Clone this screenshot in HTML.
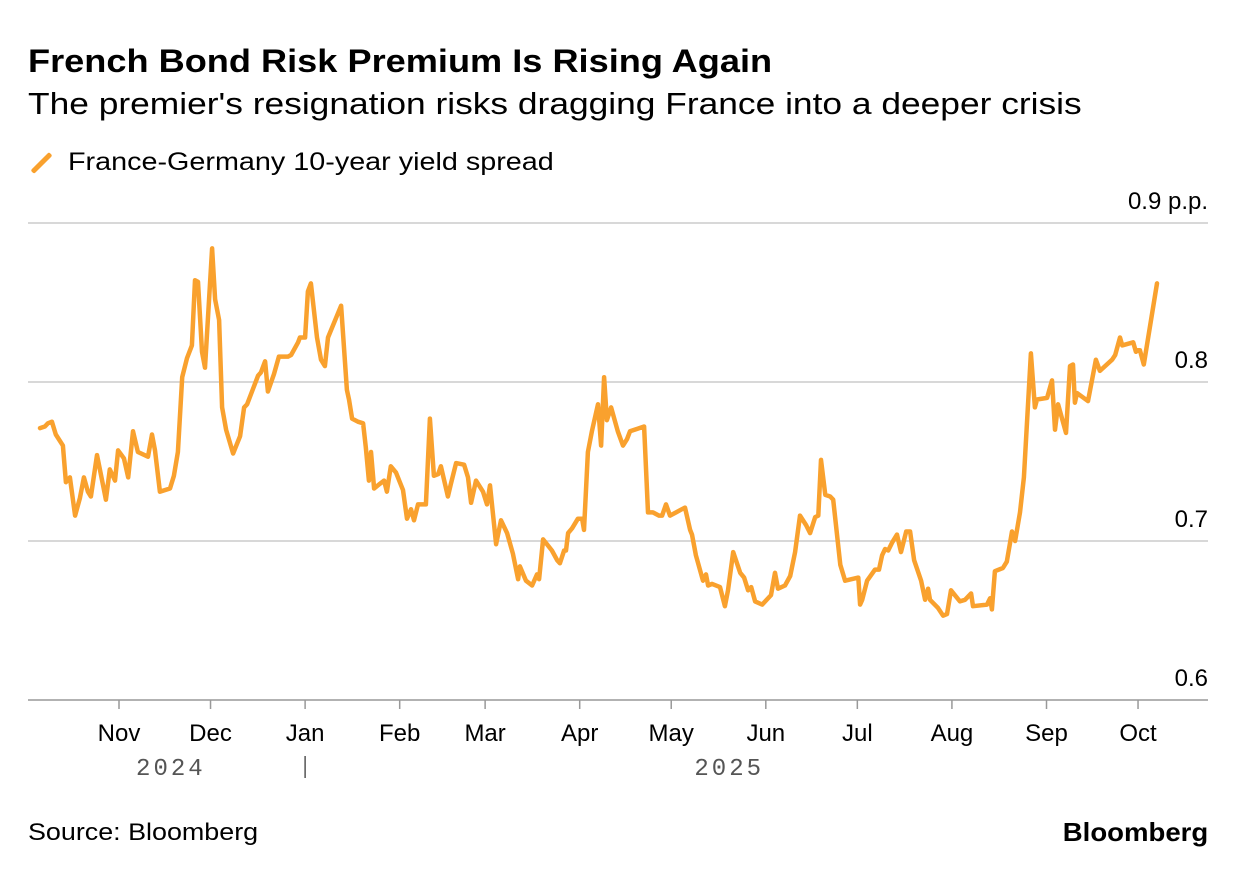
<!DOCTYPE html>
<html><head><meta charset="utf-8">
<style>
body{margin:0;background:#fff;font-family:"Liberation Sans",sans-serif;color:#000}
#wrap{position:relative;width:1237px;height:876px;overflow:hidden}
.t{position:absolute;white-space:nowrap;transform-origin:left center}
</style></head><body>
<div id="wrap">
<div class="t" style="left:28px;top:43px;font-size:32px;font-weight:bold;transform:scaleX(1.13)">French Bond Risk Premium Is Rising Again</div>
<div class="t" style="left:28px;top:86px;font-size:31px;transform:scaleX(1.14)">The premier's resignation risks dragging France into a deeper crisis</div>
<span style="position:absolute;left:39px;top:150px;width:5px;height:26px;background:#f9a12e;transform:rotate(45deg);border-radius:2px"></span>
<div class="t" style="left:68px;top:148px;font-size:25px;transform:scaleX(1.15)">France-Germany 10-year yield spread</div>
<svg id="chart" width="1237" height="876" style="position:absolute;left:0;top:0"></svg>
<div class="t" style="left:28px;top:819px;font-size:24px;transform:scaleX(1.12)">Source: Bloomberg</div>
<div class="t" style="right:29px;top:817px;font-size:26px;font-weight:bold;transform-origin:right center;transform:scaleX(1.06)">Bloomberg</div>
</div>
<script>
const days=[5.1,6.7,7.7,9.0,10.3,12.6,13.6,14.9,16.6,18.2,19.5,20.8,21.8,23.8,25.8,26.7,28.0,29.7,30.7,32.6,34.0,35.6,37.2,40.5,41.8,42.8,44.4,47.7,49.0,50.3,51.7,53.3,54.9,55.9,56.9,58.2,59.2,61.5,62.5,63.8,64.8,66.1,68.4,70.7,72.0,73.0,74.6,76.6,77.5,78.9,79.8,81.8,83.4,86.4,87.4,89.7,90.3,92.0,92.9,93.9,95.9,97.2,98.5,99.5,103.8,105.7,106.4,107.4,109.3,111.0,111.9,112.9,113.6,114.6,116.5,117.9,118.8,120.1,121.8,124.1,125.4,126.7,127.7,129.0,131.6,132.9,134.2,135.6,136.5,138.8,139.8,141.5,144.1,145.4,146.4,148.0,150.3,151.6,152.6,154.6,156.2,158.2,160.1,161.8,162.4,164.4,166.4,168.0,168.7,170.0,172.9,174.6,175.5,176.9,177.5,178.2,179.5,181.4,182.8,183.4,184.7,186.0,188.0,189.0,190.0,190.9,192.3,194.5,196.2,197.5,198.5,203.1,204.4,206.0,208.0,209.0,210.3,211.6,213.6,215.5,216.5,218.2,218.8,220.1,222.4,223.4,224.1,225.4,228.0,229.6,230.6,232.3,234.6,235.9,237.2,238.2,239.5,241.8,244.7,246.0,247.0,249.3,251.0,252.6,254.2,256.2,257.5,259.2,260.2,261.1,262.5,264.1,265.1,267.4,269.0,273.3,273.9,274.6,276.2,278.8,280.1,281.1,282.1,283.1,284.4,286.0,287.3,289.0,290.3,291.6,293.9,295.2,296.2,296.8,299.4,301.1,302.4,303.7,306.6,308.3,310.3,310.9,315.5,316.5,317.1,318.1,320.7,322.0,323.7,324.7,326.3,327.6,329.9,331.2,331.9,335.2,336.8,337.8,338.8,341.4,342.7,343.7,344.3,345.0,348.6,351.2,352.5,356.5,357.5,359.1,359.8,363.4,364.3,365.0,365.6,366.9,371.2];
const spread=[.771,.772,.774,.775,.767,.760,.737,.740,.716,.727,.740,.731,.728,.754,.735,.726,.745,.738,.757,.752,.740,.769,.756,.753,.767,.757,.731,.733,.741,.756,.803,.815,.823,.864,.863,.819,.809,.884,.852,.839,.784,.770,.755,.766,.784,.786,.794,.804,.806,.813,.794,.805,.816,.816,.817,.825,.828,.828,.857,.862,.828,.814,.810,.828,.848,.795,.789,.777,.775,.774,.759,.738,.756,.733,.736,.738,.731,.747,.743,.732,.714,.720,.713,.723,.723,.777,.741,.742,.747,.728,.736,.749,.748,.740,.724,.738,.731,.723,.735,.698,.713,.705,.692,.676,.684,.675,.672,.679,.676,.701,.694,.688,.686,.694,.694,.705,.708,.714,.714,.707,.756,.769,.786,.760,.803,.776,.784,.769,.760,.764,.769,.772,.718,.718,.716,.716,.723,.716,.718,.720,.721,.707,.704,.691,.675,.679,.672,.673,.671,.659,.669,.693,.680,.677,.669,.671,.662,.660,.666,.680,.670,.672,.678,.693,.716,.710,.705,.715,.716,.751,.729,.728,.726,.685,.675,.677,.660,.663,.675,.682,.682,.691,.695,.694,.699,.704,.693,.706,.706,.688,.675,.663,.670,.663,.658,.653,.654,.669,.662,.663,.667,.659,.660,.664,.657,.681,.683,.687,.706,.700,.718,.740,.818,.784,.789,.790,.801,.770,.786,.768,.810,.811,.787,.793,.788,.814,.807,.814,.817,.828,.823,.825,.819,.820,.820,.811,.862];
const yTicks=[0.6,0.7,0.8,0.9];
const yTickLabels=["0.6","0.7","0.8","0.9 p.p."];
const monthDays=[31,61,92,123,151,182,212,243,273,304,335,365];
const monthLabels=["Nov","Dec","Jan","Feb","Mar","Apr","May","Jun","Jul","Aug","Sep","Oct"];
const yearLabels=["2024","2025"];
const yearDays=[48,231];

const NS="http://www.w3.org/2000/svg";
const svg=document.getElementById('chart');
const X=d=>119+(d-31)*3.051;
const Y=v=>700-(v-0.6)*1590;
function mk(tag,attrs){const e=document.createElementNS(NS,tag);for(const k in attrs)e.setAttribute(k,attrs[k]);svg.appendChild(e);return e;}
yTicks.forEach((v,i)=>{
  const g=mk('line',{x1:28,x2:1208,y1:Y(v),y2:Y(v),stroke:i===0?'#999':'#ccc','stroke-width':1.5});
  
  
  const t=mk('text',{x:1208,y:Y(v)-14,'text-anchor':'end','font-size':24,'font-family':'Liberation Sans, sans-serif',fill:'#000'});
  t.textContent=yTickLabels[i];
  
  
});
monthDays.forEach((d,i)=>{
  const tk=mk('line',{x1:X(d),x2:X(d),y1:700,y2:709,stroke:'#999','stroke-width':1.5});
  
  
  const t=mk('text',{x:X(d),y:741,'text-anchor':'middle','font-size':24,'font-family':'Liberation Sans, sans-serif',fill:'#000'});
  t.textContent=monthLabels[i];
  
  
});
yearDays.forEach((d,i)=>{
  const t=mk('text',{x:X(d),y:775,'text-anchor':'middle','font-size':24,'font-family':'Liberation Mono, monospace',fill:'#555','letter-spacing':'3'});
  t.textContent=yearLabels[i];
  
  
});
const sep=mk('line',{x1:X(92),x2:X(92),y1:756,y2:778,stroke:'#555','stroke-width':1.5});


const pts=days.map((d,i)=>X(d).toFixed(1)+','+Y(spread[i]).toFixed(1)).join(' ');
const line=mk('polyline',{points:pts,fill:'none',stroke:'#f9a12e','stroke-width':4.5,'stroke-linejoin':'round','stroke-linecap':'round'});


</script>
</body></html>
